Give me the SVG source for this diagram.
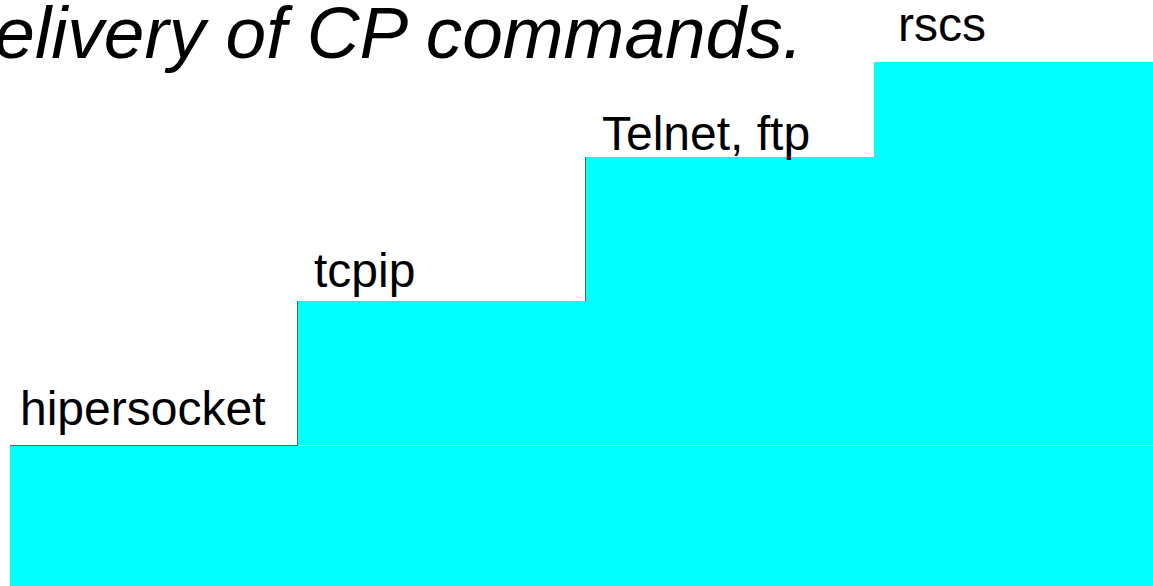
<svg xmlns="http://www.w3.org/2000/svg" width="1153" height="586" viewBox="0 0 1153 586">
  <style>
    .step { fill: #00ffff; }
    .edge { stroke: #606060; stroke-width: 1; fill: none; }
    .seam { stroke: #66ffff; stroke-width: 1; fill: none; }
    .lbl { font-family: "Liberation Sans", Arial, sans-serif; font-size: 48px; fill: #000000; }
    .title { font-family: "Liberation Sans", Arial, sans-serif; font-size: 73px; font-style: italic; fill: #000000; }
  </style>
  <rect x="0" y="0" width="1153" height="586" fill="#ffffff"/>
  <text class="title" x="803" y="58" text-anchor="end">elivery of CP commands.</text>
  <g id="rscs">
    <rect class="step" x="874" y="62" width="279" height="96"/>
    <text class="lbl" x="898" y="41">rscs</text>
  </g>
  <g id="telnet-ftp">
    <rect class="step" x="585" y="157" width="568" height="145"/>
    <text class="lbl" x="602" y="150">Telnet, ftp</text>
  </g>
  <g id="tcpip">
    <rect class="step" x="297" y="301" width="856" height="146"/>
    <text class="lbl" x="314" y="287">tcpip</text>
  </g>
  <g id="hipersocket">
    <rect class="step" x="10" y="446" width="1143" height="140"/>
    <text class="lbl" x="20" y="425">hipersocket</text>
  </g>
  <g id="connectors">
    <line class="edge" x1="585.5" y1="157" x2="585.5" y2="301"/>
    <line class="edge" x1="297.5" y1="301" x2="297.5" y2="446"/>
    <line class="edge" x1="10" y1="445.5" x2="297" y2="445.5" stroke="#aaaaaa"/>
    <line class="seam" x1="298" y1="445.5" x2="1153" y2="445.5"/>
  </g>
</svg>
